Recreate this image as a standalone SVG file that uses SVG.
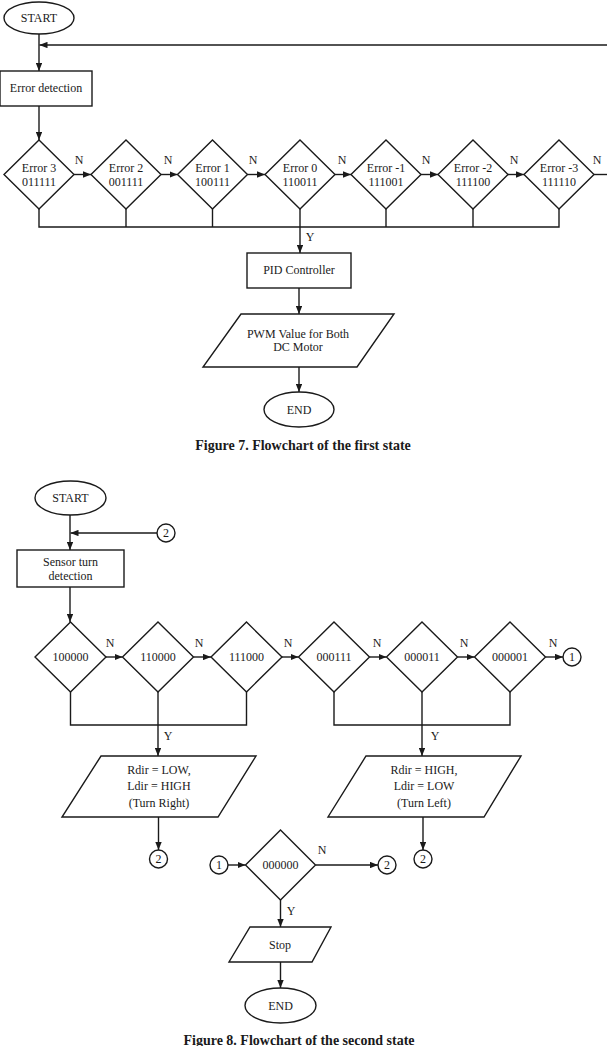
<svg xmlns="http://www.w3.org/2000/svg" width="607" height="1046" viewBox="0 0 607 1046">
<defs>
<marker id="ah" viewBox="0 0 10 8" refX="10" refY="4" markerWidth="8" markerHeight="6.4" markerUnits="userSpaceOnUse" orient="auto">
<path d="M0,0 L10,4 L0,8 Z" fill="#1a1a1a"/>
</marker>
</defs>
<style>
.s{fill:#fff;stroke:#1a1a1a;stroke-width:1.4}
.c{fill:none;stroke:#1a1a1a;stroke-width:1.4}
.a{fill:none;stroke:#1a1a1a;stroke-width:1.4;marker-end:url(#ah)}
text{font-family:"Liberation Serif","Times New Roman",serif;font-size:12px;fill:#1a1a1a;text-anchor:middle}
.cap{font-size:14px;font-weight:bold}
.lb{font-size:12px}
</style>
<rect width="607" height="1046" fill="#fff"/>

<!-- Figure 7 connectors -->
<g id="connectors7">
<line class="a" x1="39" y1="34" x2="39" y2="71"/>
<line class="a" x1="607" y1="45" x2="39.5" y2="45"/>
<line class="a" x1="39" y1="106" x2="39" y2="140"/>
<line class="a" x1="74" y1="174.5" x2="91" y2="174.5"/>
<line class="a" x1="161" y1="174.5" x2="177.5" y2="174.5"/>
<line class="a" x1="247.5" y1="174.5" x2="265" y2="174.5"/>
<line class="a" x1="335" y1="174.5" x2="351" y2="174.5"/>
<line class="a" x1="421" y1="174.5" x2="438" y2="174.5"/>
<line class="a" x1="508" y1="174.5" x2="524" y2="174.5"/>
<line class="c" x1="594" y1="174.5" x2="607" y2="174.5"/>
<polyline class="c" points="39,209 39,227 559,227 559,209"/>
<line class="c" x1="126" y1="209" x2="126" y2="227"/>
<line class="c" x1="212.5" y1="209" x2="212.5" y2="227"/>
<line class="c" x1="386" y1="209" x2="386" y2="227"/>
<line class="c" x1="473" y1="209" x2="473" y2="227"/>
<line class="a" x1="300" y1="209" x2="300" y2="253"/>
<line class="a" x1="299" y1="288" x2="299" y2="314"/>
<line class="a" x1="299" y1="367" x2="299" y2="392"/>
<text class="lb" x="79" y="164">N</text>
<text class="lb" x="168" y="164">N</text>
<text class="lb" x="253" y="164">N</text>
<text class="lb" x="342" y="164">N</text>
<text class="lb" x="426" y="164">N</text>
<text class="lb" x="514" y="164">N</text>
<text class="lb" x="597" y="164">N</text>
<text class="lb" x="310" y="241">Y</text>
</g>

<g id="start7"><ellipse class="s" cx="39" cy="18" rx="35" ry="16"/><text x="39" y="22">START</text></g>
<g id="errdet"><rect class="s" x="0" y="71" width="92" height="35"/><text x="46" y="92">Error detection</text></g>
<g id="e3"><polygon class="s" points="39,140 74,174.5 39,209 4,174.5"/><text x="39" y="172">Error 3</text><text x="39" y="186">011111</text></g>
<g id="e2"><polygon class="s" points="126,140 161,174.5 126,209 91,174.5"/><text x="126" y="172">Error 2</text><text x="126" y="186">001111</text></g>
<g id="e1"><polygon class="s" points="212.5,140 247.5,174.5 212.5,209 177.5,174.5"/><text x="212.5" y="172">Error 1</text><text x="212.5" y="186">100111</text></g>
<g id="e0"><polygon class="s" points="300,140 335,174.5 300,209 265,174.5"/><text x="300" y="172">Error 0</text><text x="300" y="186">110011</text></g>
<g id="em1"><polygon class="s" points="386,140 421,174.5 386,209 351,174.5"/><text x="386" y="172">Error -1</text><text x="386" y="186">111001</text></g>
<g id="em2"><polygon class="s" points="473,140 508,174.5 473,209 438,174.5"/><text x="473" y="172">Error -2</text><text x="473" y="186">111100</text></g>
<g id="em3"><polygon class="s" points="559,140 594,174.5 559,209 524,174.5"/><text x="559" y="172">Error -3</text><text x="559" y="186">111110</text></g>
<g id="pid"><rect class="s" x="247" y="253" width="104" height="35"/><text x="299" y="274">PID Controller</text></g>
<g id="pwm"><polygon class="s" points="241,314 394,314 357,367 203,367"/><text x="298" y="338">PWM Value for Both</text><text x="298" y="351">DC Motor</text></g>
<g id="end7"><ellipse class="s" cx="299" cy="409.5" rx="35" ry="17.5"/><text x="299" y="413.5">END</text></g>
<text class="cap" x="303" y="450">Figure 7. Flowchart of the first state</text>

<!-- Figure 8 connectors -->
<g id="connectors8">
<line class="a" x1="70" y1="515" x2="70" y2="550"/>
<line class="a" x1="157" y1="533" x2="70.5" y2="533"/>
<line class="a" x1="70" y1="587" x2="70" y2="622"/>
<line class="a" x1="106" y1="657" x2="122.5" y2="657"/>
<line class="a" x1="193.5" y1="657" x2="211" y2="657"/>
<line class="a" x1="282" y1="657" x2="298.5" y2="657"/>
<line class="a" x1="369.5" y1="657" x2="386.5" y2="657"/>
<line class="a" x1="457.5" y1="657" x2="474.5" y2="657"/>
<line class="a" x1="545.5" y1="657" x2="563" y2="657"/>
<polyline class="c" points="70.5,692 70.5,725 246.5,725 246.5,692"/>
<line class="a" x1="158" y1="692" x2="158" y2="756"/>
<polyline class="c" points="334,692 334,725 510,725 510,692"/>
<line class="a" x1="422" y1="692" x2="422" y2="756"/>
<line class="a" x1="158.5" y1="817" x2="158.5" y2="850"/>
<line class="a" x1="423" y1="817" x2="423" y2="850"/>
<line class="a" x1="228" y1="865" x2="245.5" y2="865"/>
<line class="a" x1="315.5" y1="865" x2="378" y2="865"/>
<line class="a" x1="280.5" y1="900" x2="280.5" y2="927"/>
<line class="a" x1="280.5" y1="962" x2="280.5" y2="988"/>
<text class="lb" x="110" y="647">N</text>
<text class="lb" x="199" y="647">N</text>
<text class="lb" x="288" y="647">N</text>
<text class="lb" x="377" y="647">N</text>
<text class="lb" x="464" y="647">N</text>
<text class="lb" x="553" y="647">N</text>
<text class="lb" x="168" y="740">Y</text>
<text class="lb" x="435" y="740">Y</text>
<text class="lb" x="322" y="854">N</text>
<text class="lb" x="291" y="915">Y</text>
</g>

<g id="start8"><ellipse class="s" cx="70.5" cy="498" rx="35.5" ry="17"/><text x="70.5" y="502">START</text></g>
<g id="conn2a"><circle class="s" cx="166" cy="533" r="9"/><text x="166" y="537">2</text></g>
<g id="sensor"><rect class="s" x="17" y="550" width="107" height="37"/><text x="70.5" y="566">Sensor turn</text><text x="70.5" y="580">detection</text></g>
<g id="d100000"><polygon class="s" points="70.5,622 106,657 70.5,692 35,657"/><text x="70.5" y="661">100000</text></g>
<g id="d110000"><polygon class="s" points="158,622 193.5,657 158,692 122.5,657"/><text x="158" y="661">110000</text></g>
<g id="d111000"><polygon class="s" points="246.5,622 282,657 246.5,692 211,657"/><text x="246.5" y="661">111000</text></g>
<g id="d000111"><polygon class="s" points="334,622 369.5,657 334,692 298.5,657"/><text x="334" y="661">000111</text></g>
<g id="d000011"><polygon class="s" points="422,622 457.5,657 422,692 386.5,657"/><text x="422" y="661">000011</text></g>
<g id="d000001"><polygon class="s" points="510,622 545.5,657 510,692 474.5,657"/><text x="510" y="661">000001</text></g>
<g id="conn1a"><circle class="s" cx="572" cy="657" r="9"/><text x="572" y="661">1</text></g>
<g id="right"><polygon class="s" points="101,756 256,756 218,817 62,817"/><text x="159" y="774">Rdir = LOW,</text><text x="159" y="790">Ldir = HIGH</text><text x="159" y="807">(Turn Right)</text></g>
<g id="left"><polygon class="s" points="366,756 521,756 484,817 328,817"/><text x="424" y="774">Rdir = HIGH,</text><text x="424" y="790">Ldir = LOW</text><text x="424" y="807">(Turn Left)</text></g>
<g id="conn2b"><circle class="s" cx="158.5" cy="859" r="9"/><text x="158.5" y="863">2</text></g>
<g id="conn2c"><circle class="s" cx="423" cy="859" r="9"/><text x="423" y="863">2</text></g>
<g id="conn1b"><circle class="s" cx="219" cy="865" r="9"/><text x="219" y="869">1</text></g>
<g id="d000000"><polygon class="s" points="280.5,830 315.5,865 280.5,900 245.5,865"/><text x="280.5" y="869">000000</text></g>
<g id="conn2d"><circle class="s" cx="387" cy="865" r="9"/><text x="387" y="869">2</text></g>
<g id="stop"><polygon class="s" points="250,927 331,927 312,962 229,962"/><text x="280" y="949">Stop</text></g>
<g id="end8"><ellipse class="s" cx="280.5" cy="1005.5" rx="35.5" ry="17.5"/><text x="280.5" y="1009.5">END</text></g>
<text class="cap" x="299" y="1045">Figure 8. Flowchart of the second state</text>
</svg>
